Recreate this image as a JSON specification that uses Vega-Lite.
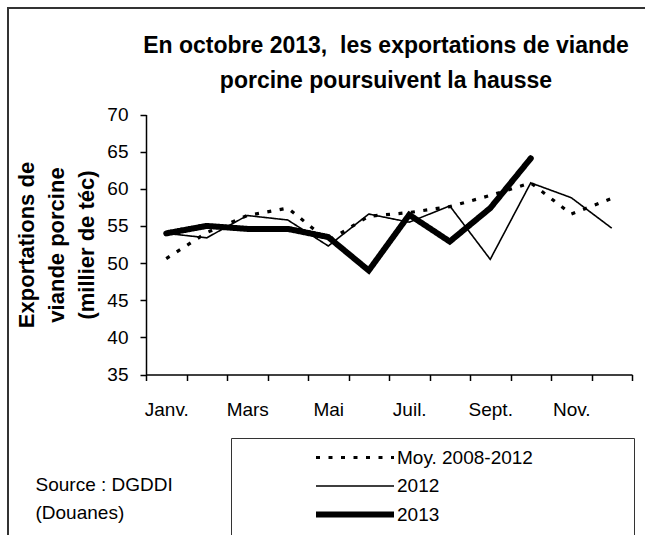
{
  "$schema": "https://vega.github.io/schema/vega-lite/v6.json",
  "autosize": "none",
  "padding": {"left": 8, "top": 8, "right": 0, "bottom": 0},
  "width": 640,
  "height": 532,
  "background": "white",
  "config": {
    "font": "Liberation Sans",
    "view": {"stroke": "#333333", "strokeWidth": 2, "fill": "white"},
    "axis": {"grid": false, "domainColor": "black", "tickColor": "black", "labelColor": "black", "titleColor": "black", "labelFont": "Liberation Sans", "titleFont": "Liberation Sans"},
    "legend": {"padding": 10, "strokeColor": "#333333", "fillColor": "white", "titleOrient": "right", "titlePadding": 91, "titleFontSize": 19, "labelFontSize": 19, "labelFont": "Liberation Sans", "labelColor": "black", "symbolType": "stroke", "symbolSize": 6084, "clipHeight": 19, "rowPadding": 8.5, "symbolOffset": 72, "labelOffset": 0, "symbolStrokeColor": "black", "labelLimit": 0}
  },
  "title": {
    "text": ["En octobre 2013,\u00a0 les exportations de viande", "porcine poursuivent la hausse"],
    "fontSize": 23, "fontWeight": "bold", "font": "Liberation Sans", "color": "black",
    "anchor": "middle", "frame": "group", "dx": 58, "offset": -85, "lineHeight": 35
  },
  "data": {"values": [
    {"s": "Moy. 2008-2012", "m": 1, "v": 50.6},
    {"s": "Moy. 2008-2012", "m": 2, "v": 54.1},
    {"s": "Moy. 2008-2012", "m": 3, "v": 56.4},
    {"s": "Moy. 2008-2012", "m": 4, "v": 57.4},
    {"s": "Moy. 2008-2012", "m": 5, "v": 53.0},
    {"s": "Moy. 2008-2012", "m": 6, "v": 56.3},
    {"s": "Moy. 2008-2012", "m": 7, "v": 56.8},
    {"s": "Moy. 2008-2012", "m": 8, "v": 57.6},
    {"s": "Moy. 2008-2012", "m": 9, "v": 59.1},
    {"s": "Moy. 2008-2012", "m": 10, "v": 60.8},
    {"s": "Moy. 2008-2012", "m": 11, "v": 56.6},
    {"s": "Moy. 2008-2012", "m": 12, "v": 58.7},
    {"s": "2012", "m": 1, "v": 54.0},
    {"s": "2012", "m": 2, "v": 53.4},
    {"s": "2012", "m": 3, "v": 56.4},
    {"s": "2012", "m": 4, "v": 55.8},
    {"s": "2012", "m": 5, "v": 52.3},
    {"s": "2012", "m": 6, "v": 56.6},
    {"s": "2012", "m": 7, "v": 55.5},
    {"s": "2012", "m": 8, "v": 57.7},
    {"s": "2012", "m": 9, "v": 50.5},
    {"s": "2012", "m": 10, "v": 60.8},
    {"s": "2012", "m": 11, "v": 58.8},
    {"s": "2012", "m": 12, "v": 54.7},
    {"s": "2013", "m": 1, "v": 54.0},
    {"s": "2013", "m": 2, "v": 55.0},
    {"s": "2013", "m": 3, "v": 54.6},
    {"s": "2013", "m": 4, "v": 54.6},
    {"s": "2013", "m": 5, "v": 53.5},
    {"s": "2013", "m": 6, "v": 49.0},
    {"s": "2013", "m": 7, "v": 56.5},
    {"s": "2013", "m": 8, "v": 52.9},
    {"s": "2013", "m": 9, "v": 57.4},
    {"s": "2013", "m": 10, "v": 64.1}
  ]},
  "encoding": {
    "x": {"field": "m", "type": "quantitative",
      "scale": {"domain": [0.5, 12.5], "range": [138, 624], "nice": false, "zero": false},
      "axis": {"values": [0.5,1.5,2.5,3.5,4.5,5.5,6.5,7.5,8.5,9.5,10.5,11.5,12.5], "offset": -165.5, "tickSize": 6, "tickWidth": 1.5, "domainWidth": 1.5,
        "labelExpr": "datum.value == 0.5 ? 'Janv.' : datum.value == 2.5 ? 'Mars' : datum.value == 4.5 ? 'Mai' : datum.value == 6.5 ? 'Juil.' : datum.value == 8.5 ? 'Sept.' : datum.value == 10.5 ? 'Nov.' : ''",
        "labelOffset": 20.25, "labelFontSize": 19, "labelPadding": 20, "labelOverlap": false, "labelFlush": false, "labelBound": false,
        "title": ["Source : DGDDI", "(Douanes)"], "titleX": 27, "titleY": 116, "titleAlign": "left", "titleAnchor": "start", "titleBaseline": "alphabetic", "titleFontWeight": "normal", "titleFontSize": 19, "titleLineHeight": 28}},
    "y": {"field": "v", "type": "quantitative",
      "scale": {"domain": [35, 70], "range": [366.5, 106.5], "nice": false, "zero": false},
      "axis": {"values": [35,40,45,50,55,60,65,70], "offset": -138, "tickSize": 6, "tickWidth": 1.5, "domainWidth": 1.5, "labelFontSize": 19, "labelPadding": 12,
        "title": ["Exportations de", "viande porcine", "(millier de téc)"], "titleFontSize": 22, "titleFontWeight": "bold", "titleAngle": -90, "titleX": -130, "titleY": 236.5, "titleAlign": "center", "titleBaseline": "top", "titleLineHeight": 30}},
    "strokeDash": {"field": "s", "type": "nominal",
      "scale": {"domain": ["Moy. 2008-2012", "2012", "2013"], "range": [[4, 8.5], [1, 0], [1, 0]]},
      "legend": {"title": "\u00a0", "orient": "none", "legendX": 223, "legendY": 430}},
    "strokeWidth": {"field": "s", "type": "nominal",
      "scale": {"type": "ordinal", "domain": ["Moy. 2008-2012", "2012", "2013"], "range": [3.2, 1.6, 6]},
      "legend": {"title": "\u00a0", "orient": "none", "legendX": 223, "legendY": 430}}
  },
  "layer": [
    {
      "transform": [{"filter": "datum.s != '2013'"}],
      "mark": {"type": "line", "color": "black", "strokeCap": "butt"}
    },
    {
      "transform": [{"filter": "datum.s == '2013'"}],
      "mark": {"type": "line", "color": "black", "strokeCap": "round"}
    },
    {
      "data": {"values": [{}]},
      "mark": {"type": "rule", "color": "#8c8c8c", "strokeWidth": 2},
      "encoding": {"x": {"datum": 0.5, "type": "quantitative"}, "x2": {"datum": 12.5}, "y": {"datum": 70, "type": "quantitative"}, "strokeDash": null, "strokeWidth": null}
    },
    {
      "data": {"values": [{}]},
      "mark": {"type": "rule", "color": "#8c8c8c", "strokeWidth": 2},
      "encoding": {"x": {"datum": 12.5, "type": "quantitative"}, "x2": null, "y": {"datum": 35, "type": "quantitative"}, "y2": {"datum": 70}, "strokeDash": null, "strokeWidth": null}
    }
  ]
}
